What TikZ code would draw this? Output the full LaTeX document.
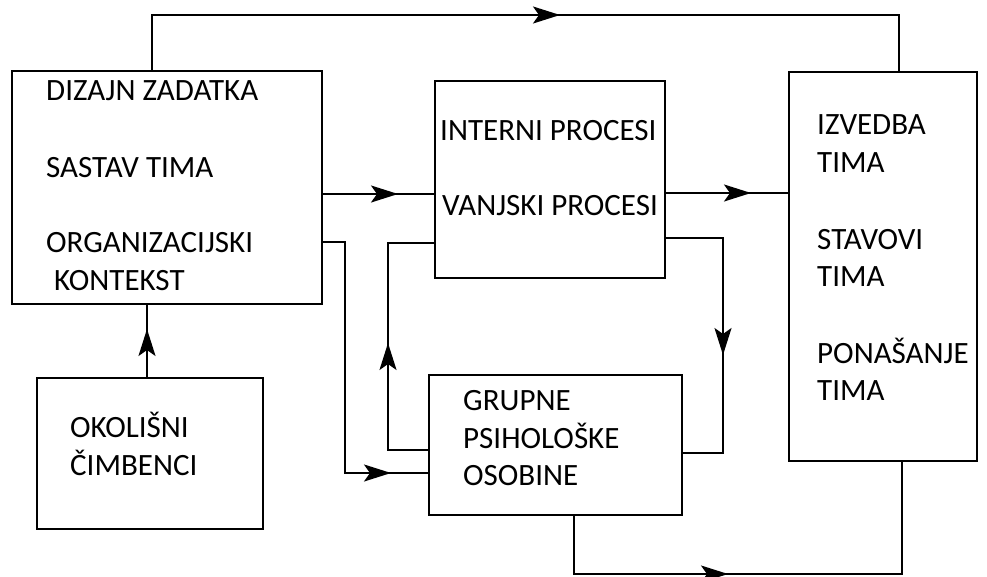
\documentclass[tikz,border=0pt]{standalone}
\usepackage{fontspec}
\setmainfont{Carlito}
\usetikzlibrary{arrows.meta,decorations.markings}
\tikzset{
  box/.style={draw,line width=2pt,rectangle,inner sep=0pt},
  lbl/.style={anchor=base west,inner sep=0pt,font=\fontsize{31}{38}\selectfont},
  flow/.style={line width=2pt,postaction={decorate},
    decoration={markings,mark=at position #1 with {\arrow{Stealth[length=27pt,width=17pt,inset=6pt]}}}},
}
\begin{document}
\begin{tikzpicture}[x=1pt,y=-1pt]
  \useasboundingbox (0,0) rectangle (987,576);
  % boxes
  \node[box,minimum width=310pt,minimum height=233pt] (zadatak) at (167,187.5) {};
  \node[box,minimum width=230pt,minimum height=197pt] (procesi) at (550,179.5) {};
  \node[box,minimum width=188pt,minimum height=389pt] (ishodi) at (883,266.5) {};
  \node[box,minimum width=226pt,minimum height=151pt] (okolis) at (150,453.5) {};
  \node[box,minimum width=253pt,minimum height=140pt] (grupa) at (555.5,445) {};
  % texts
  \node[lbl] (zad1) at (46,100) {DIZAJN ZADATKA};
  \node[lbl] (zad2) at (46,177) {SASTAV TIMA};
  \node[lbl] (zad3) at (46,252) {ORGANIZACIJSKI};
  \node[lbl] (zad4) at (54,290) {KONTEKST};
  \node[lbl] (pro1) at (440,140) {INTERNI PROCESI};
  \node[lbl] (pro2) at (442,215) {VANJSKI PROCESI};
  \node[lbl] (ish1) at (817,134) {IZVEDBA};
  \node[lbl] (ish2) at (817,172) {TIMA};
  \node[lbl] (ish3) at (817,249) {STAVOVI};
  \node[lbl] (ish4) at (817,286) {TIMA};
  \node[lbl] (ish5) at (817,363) {PONAŠANJE};
  \node[lbl] (ish6) at (817,400) {TIMA};
  \node[lbl] (oko1) at (70,437) {OKOLIŠNI};
  \node[lbl] (oko2) at (70,475) {ČIMBENCI};
  \node[lbl] (gru1) at (463,410) {GRUPNE};
  \node[lbl] (gru2) at (463,448) {PSIHOLOŠKE};
  \node[lbl] (gru3) at (463,485) {OSOBINE};
  % connectors
  \draw[flow=463pt] ([xshift=-15pt]zadatak.north) -- ++(0,-55) -| ([xshift=16pt]ishodi.north);
  \draw[flow=75pt] ([yshift=-6.5pt]zadatak.east) -- ([yshift=-6.5pt]zadatak.east -| procesi.west);
  \draw[flow=85pt] ([yshift=-13.5pt]procesi.east) -- ([yshift=-13.5pt]procesi.east -| ishodi.west);
  \draw[flow=299pt] ([yshift=-54.5pt]zadatak.east) -- ++(22,0) |- ([yshift=-28pt]grupa.west);
  \draw[flow=147pt] ([yshift=-5pt]grupa.west) -- ++(-40,0) |- ([yshift=-63.5pt]procesi.west);
  \draw[flow=174pt] ([yshift=-58.5pt]procesi.east) -- ++(57,0) |- ([yshift=-8pt]grupa.east);
  \draw[flow=212pt] ([xshift=18.5pt]grupa.south) -- ++(0,58) -| ([xshift=19pt]ishodi.south);
  \draw[flow=48pt] ([xshift=-3pt]okolis.north) -- ([xshift=-3pt]okolis.north |- zadatak.south);
\end{tikzpicture}
\end{document}
